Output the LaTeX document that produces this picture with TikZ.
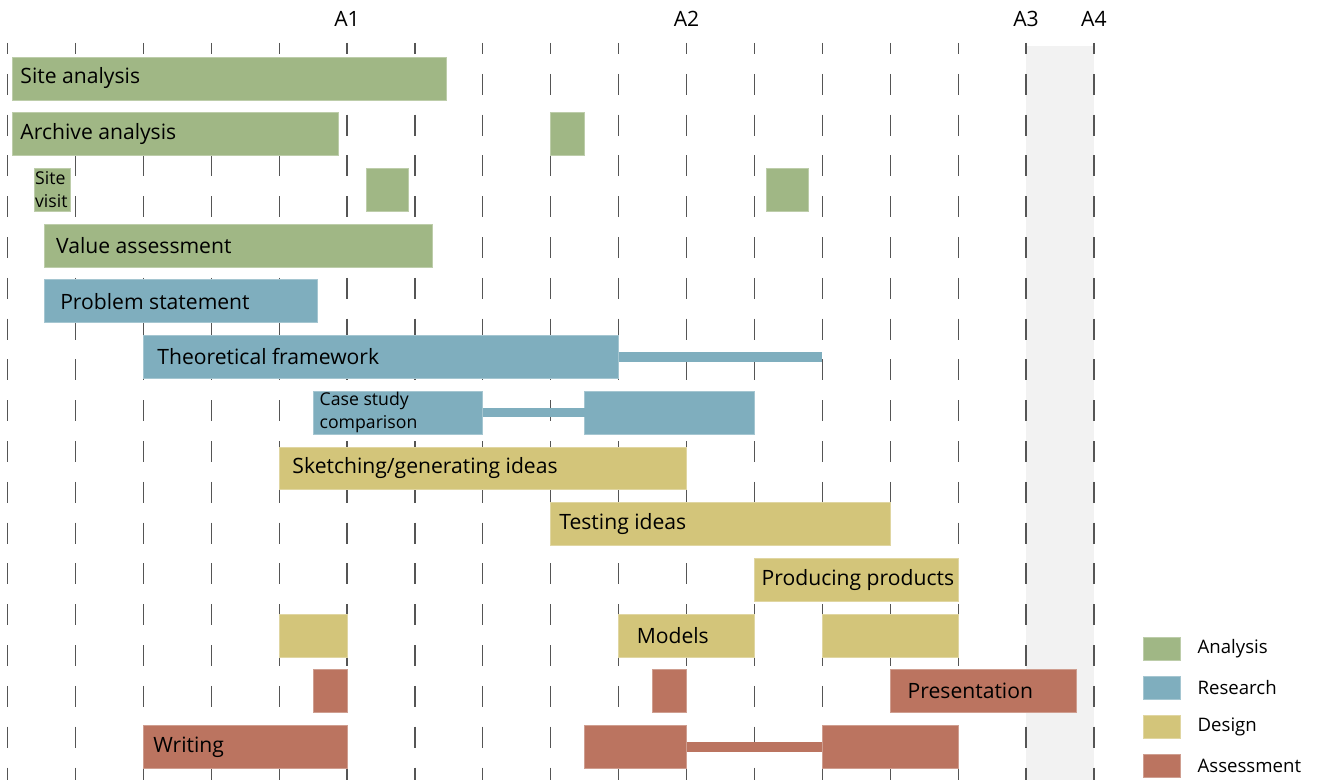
\documentclass[tikz,border=0pt]{standalone}
\usepackage{fontspec}
\setmainfont{Open Sans}
\definecolor{analysis}{RGB}{160,183,133}
\definecolor{research}{RGB}{127,174,190}
\definecolor{design}{RGB}{211,197,122}
\definecolor{assessment}{RGB}{187,116,96}
\definecolor{band}{RGB}{242,242,242}
\definecolor{tick}{RGB}{85,85,85}

\begin{document}
\begin{tikzpicture}[x=1cm,y=-0.8203cm,
  bar/.style={anchor=west,fill=#1,draw=#1!70!white,line width=0.3pt,minimum height=0.633cm,inner sep=0pt,outer sep=0pt},
  gap/.style={draw=#1,line width=0.14cm},
  lbl/.style={anchor=west,inner sep=0pt,font=\fontsize{8.85}{10}\selectfont},
  small/.style={anchor=west,inner sep=0pt,align=left,font=\fontsize{7.4}{9.6}\selectfont},
  key/.style={fill=#1,draw=#1!70!white,line width=0.3pt,minimum width=0.545cm,minimum height=0.339cm,inner sep=0pt},
  keytext/.style={anchor=west,inner sep=0pt,font=\fontsize{7.8}{9}\selectfont},
  gridline/.style={draw=tick,line width=0.5pt,dash pattern=on 8.8pt off 8.3pt,dash phase=4.2pt}]
\useasboundingbox (-0.1105,-1.409) rectangle (19.315,12.594);

% exam weeks and dashed week lines
\fill[band] (15,-0.58) rectangle (16,12.594);
\foreach \i in {0,...,16}
  \draw[gridline] (\i,-0.637) -- (\i,12.594);
\node[lbl,anchor=center] at (5,-1.068) (a1) {A1};
\node[lbl,anchor=center] at (10,-1.068) (a2) {A2};
\node[lbl,anchor=center] at (15,-1.068) (a3) {A3};
\node[lbl,anchor=center] at (16,-1.068) (a4) {A4};

% analysis
\node[bar=analysis,minimum width=6.4cm] at (0.07,0) (sa) {};
\node[lbl] at (0.184,0) (sa-t) {Site analysis};
\node[bar=analysis,minimum width=4.8cm] at (0.07,1) (aa) {};
\node[lbl] at (0.184,1) (aa-t) {Archive analysis};
\node[bar=analysis,minimum width=0.5cm] at (8,1) (aa2) {};
\node[bar=analysis,minimum width=0.52cm] at (0.4,2) (sv) {};
\node[small] at (0.4,2) (sv-t) {Site\\visit};
\node[bar=analysis,minimum width=0.62cm] at (5.29,2) (sv2) {};
\node[bar=analysis,minimum width=0.62cm] at (11.18,2) (sv3) {};
\node[bar=analysis,minimum width=5.7cm] at (0.55,3) (va) {};
\node[lbl] at (0.71,3) (va-t) {Value assessment};

% research
\node[bar=research,minimum width=4.01cm] at (0.55,4) (ps) {};
\node[lbl] at (0.77,4) (ps-t) {Problem statement};
\node[bar=research,minimum width=7cm] at (2,5) (tf) {};
\node[lbl] at (2.2,5) (tf-t) {Theoretical framework};
\coordinate (tf-end) at (12,5);
\draw[gap=research] (tf.east) -- (tf-end);
\node[bar=research,minimum width=2.5cm] at (4.5,6) (cs) {};
\node[small] at (4.59,6) (cs-t) {Case study\\comparison};
\node[bar=research,minimum width=2.5cm] at (8.5,6) (cs2) {};
\draw[gap=research] (cs.east) -- (cs2.west);

% design
\node[bar=design,minimum width=6cm] at (4,7) (sk) {};
\node[lbl] at (4.19,7) (sk-t) {Sketching/generating ideas};
\node[bar=design,minimum width=5cm] at (8,8) (ti) {};
\node[lbl] at (8.12,8) (ti-t) {Testing ideas};
\node[bar=design,minimum width=3cm] at (11,9) (pp) {};
\node[lbl] at (11.1,9) (pp-t) {Producing products};
\node[bar=design,minimum width=1cm] at (4,10) (md) {};
\node[bar=design,minimum width=2cm] at (9,10) (md2) {};
\node[lbl] at (9.26,10) (md-t) {Models};
\node[bar=design,minimum width=2cm] at (12,10) (md3) {};

% assessment
\node[bar=assessment,minimum width=0.5cm] at (4.5,11) (pr) {};
\node[bar=assessment,minimum width=0.5cm] at (9.5,11) (pr2) {};
\node[bar=assessment,minimum width=2.74cm] at (13,11) (pr3) {};
\node[lbl] at (13.25,11) (pr-t) {Presentation};
\node[bar=assessment,minimum width=3cm] at (2,12) (wr) {};
\node[lbl] at (2.14,12) (wr-t) {Writing};
\node[bar=assessment,minimum width=1.5cm] at (8.5,12) (wr2) {};
\node[bar=assessment,minimum width=2cm] at (12,12) (wr3) {};
\draw[gap=assessment] (wr2.east) -- (wr3.west);

% legend
\node[key=analysis] at (16.995,10.233) (k1) {};
\node[keytext] at (17.52,10.233) (k1-t) {Analysis};
\node[key=research] at (16.995,10.943) (k2) {};
\node[keytext] at (17.52,10.943) (k2-t) {Research};
\node[key=design] at (16.995,11.643) (k3) {};
\node[keytext] at (17.52,11.643) (k3-t) {Design};
\node[key=assessment] at (16.995,12.343) (k4) {};
\node[keytext] at (17.52,12.343) (k4-t) {Assessment};
\end{tikzpicture}
\end{document}
